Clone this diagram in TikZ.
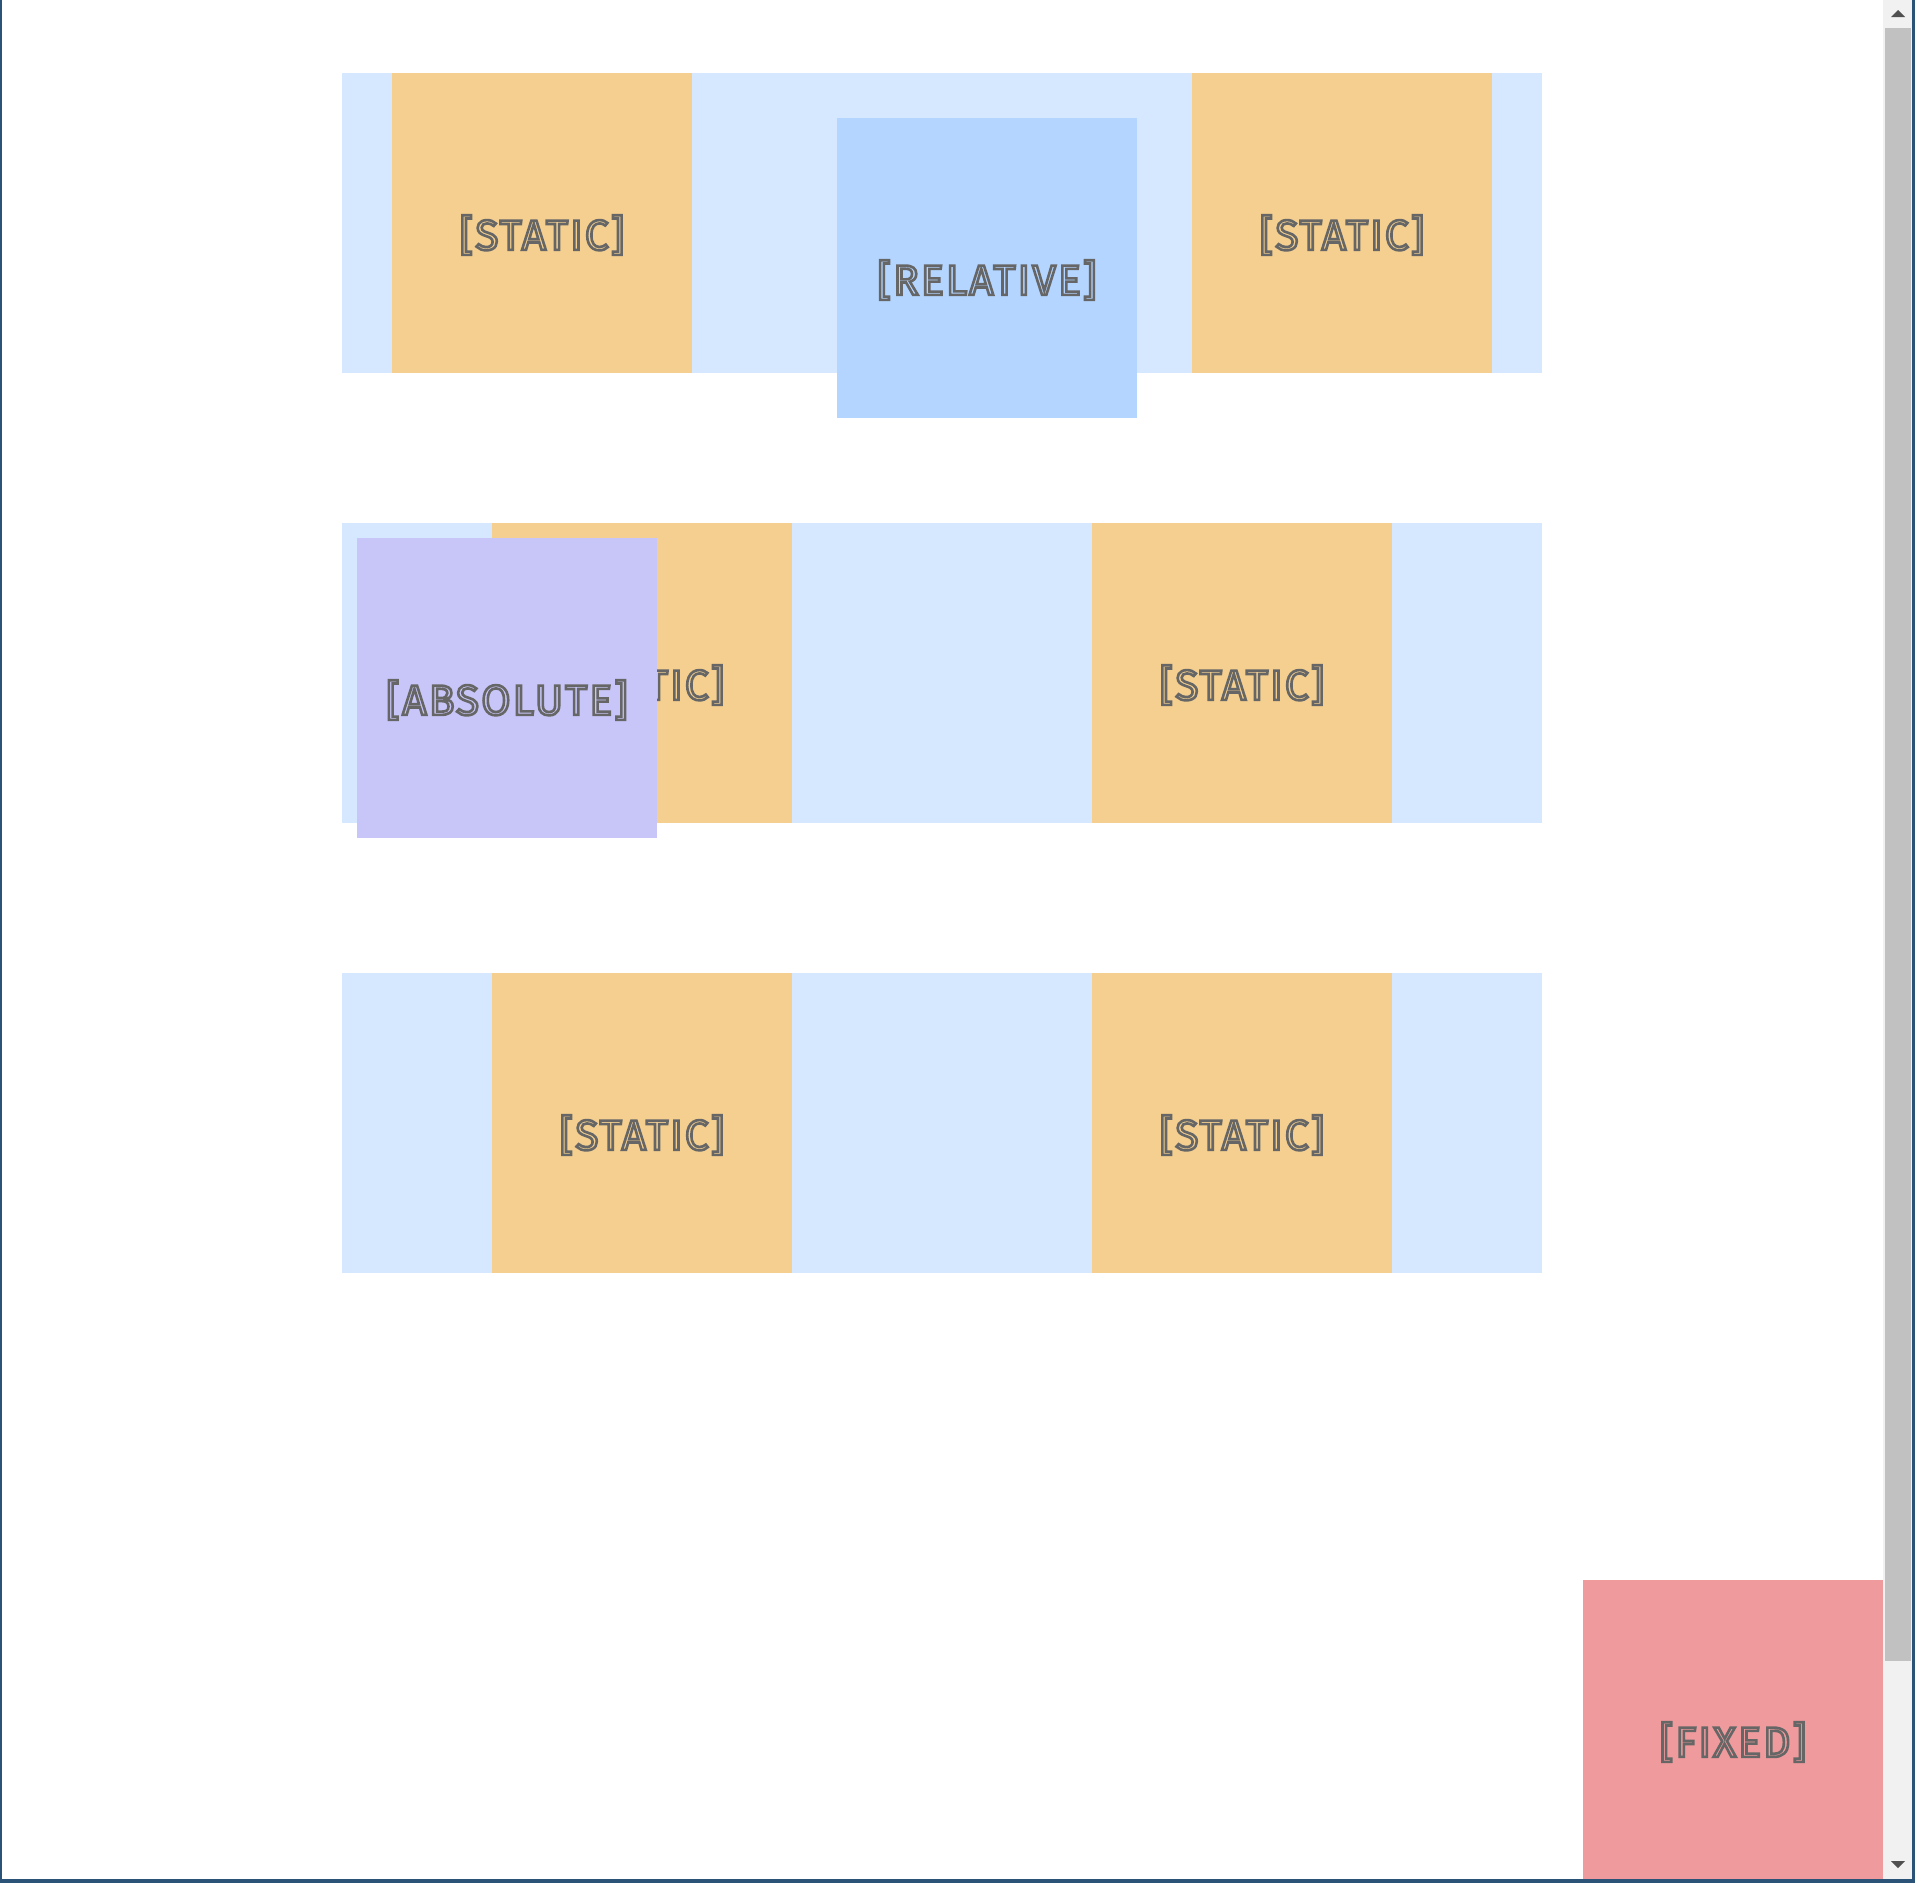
\documentclass[tikz,border=0pt]{standalone}
\usepackage{fontspec}
\setmainfont{Fira Sans}
\newfontfamily\boxfont[LetterSpace=5]{Fira Sans}
\definecolor{contbg}{HTML}{D6E8FF}
\definecolor{staticc}{HTML}{F4CF8F}
\definecolor{relc}{HTML}{B3D5FF}
\definecolor{absc}{HTML}{C8C6F8}
\definecolor{fixc}{HTML}{EF9A9C}
\definecolor{txtc}{HTML}{666666}
\definecolor{trackc}{HTML}{F1F1F1}
\definecolor{thumbc}{HTML}{C1C1C1}
\definecolor{arrowc}{HTML}{505050}
\definecolor{framec}{HTML}{2B5377}
\newcommand{\outlined}[1]{\special{pdf:literal direct 1 Tr 2.6 w}#1\special{pdf:literal direct 0 Tr}}
\begin{document}
\begin{tikzpicture}[x=1pt,y=-1pt,
  panel/.style={anchor=north west,inner sep=0pt,outer sep=0pt,minimum width=1200pt,minimum height=300pt,fill=contbg},
  sqbox/.style={anchor=north west,inner sep=0pt,outer sep=0pt,minimum width=300pt,minimum height=300pt},
  lbl/.style={inner sep=0pt,text=txtc,draw=none,font=\boxfont\fontsize{42.5}{50}\selectfont}]
\useasboundingbox (0,0) rectangle (1915,1883);
\fill[white] (0,0) rectangle (1915,1883);
% containers
\node[panel] (c1) at (342,73) {};
\node[panel] (c2) at (342,523) {};
\node[panel] (c3) at (342,973) {};
% row 1
\node[sqbox,fill=staticc] (s11) at (392,73) {};
\node[sqbox,fill=staticc] (s12) at (1192,73) {};
\node[sqbox,fill=relc] (r1) at (837,118) {};
\node[lbl] (t11) at ([yshift=-12pt]s11.center) {\outlined{[STATIC]}};
\node[lbl] (t12) at ([yshift=-12pt]s12.center) {\outlined{[STATIC]}};
\node[lbl] (tr1) at ([yshift=-12pt]r1.center) {\outlined{[RELATIVE]}};
% row 2
\node[sqbox,fill=staticc] (s21) at (492,523) {};
\node[sqbox,fill=staticc] (s22) at (1092,523) {};
\node[lbl] (t21) at ([yshift=-12pt]s21.center) {\outlined{[STATIC]}};
\node[lbl] (t22) at ([yshift=-12pt]s22.center) {\outlined{[STATIC]}};
\node[sqbox,fill=absc] (a2) at (357,538) {};
\node[lbl] (ta2) at ([yshift=-12pt]a2.center) {\outlined{[ABSOLUTE]}};
% row 3
\node[sqbox,fill=staticc] (s31) at (492,973) {};
\node[sqbox,fill=staticc] (s32) at (1092,973) {};
\node[lbl] (t31) at ([yshift=-12pt]s31.center) {\outlined{[STATIC]}};
\node[lbl] (t32) at ([yshift=-12pt]s32.center) {\outlined{[STATIC]}};
% fixed
\node[sqbox,fill=fixc] (f) at (1583,1580) {};
\node[lbl] (tf) at ([yshift=-12pt]f.center) {\outlined{[FIXED]}};
% scrollbar
\fill[trackc] (1883,0) rectangle (1912,1879);
\fill[thumbc] (1885,28) rectangle (1911,1661);
\fill[arrowc] (1891,17) -- (1905,17) -- (1898,10) -- cycle;
\fill[arrowc] (1891,1861) -- (1905,1861) -- (1898,1868) -- cycle;
% window frame
\fill[framec] (0,0) rectangle (1.5,1883);
\fill[framec] (1912,0) rectangle (1915,1883);
\fill[framec] (0,1879) rectangle (1915,1883);
\end{tikzpicture}
\end{document}
